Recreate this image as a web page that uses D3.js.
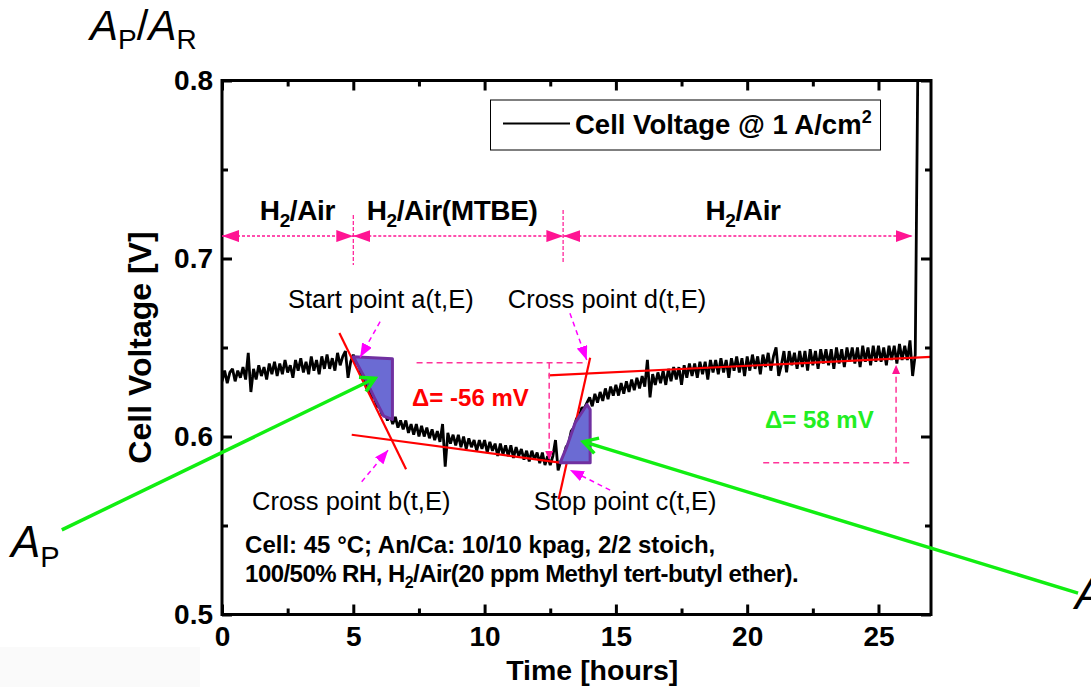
<!DOCTYPE html>
<html>
<head>
<meta charset="utf-8">
<script src="https://cdn.jsdelivr.net/npm/d3@7"></script>
<style>
body { margin: 0; background: #fff; }
svg { display: block; font-family: "Liberation Sans", Arial, sans-serif; }
</style>
</head>
<body>
<div id="chart"></div>
<script>
// Axis ticks
var timeTicks = [0, 5, 10, 15, 20, 25];
var timeMinorTicks = [2.5, 7.5, 12.5, 17.5, 22.5];
var voltTicks = [0.5, 0.6, 0.7, 0.8];
var voltMinorTicks = [0.55, 0.65, 0.75];

// Cell voltage in mV, one reading every 0.1 h starting at 0 h
var sampleStep = 0.1;
var cellVoltage = [
  631, 637, 630, 636, 638, 631, 637, 633, 639, 632,
  647, 625, 638, 632, 640, 634, 639, 632, 641, 635,
  642, 634, 641, 635, 643, 636, 640, 633, 643, 637,
  644, 636, 642, 635, 645, 637, 643, 635, 645, 638,
  646, 638, 644, 637, 647, 640, 645, 648, 633, 642,
  646, 641, 642, 634, 635, 627, 628, 622, 622, 617,
  617, 612, 614, 609, 612, 607, 611, 605, 609, 604,
  609, 602, 607, 601, 607, 600, 606, 600, 605, 599,
  604, 598, 603, 597, 607, 583, 602, 596, 601, 595,
  601, 594, 600, 593, 599, 594, 598, 592, 598, 593,
  598, 591, 597, 592, 596, 589, 596, 590, 595, 589,
  595, 588, 594, 589, 593, 587, 592, 586, 592, 587,
  591, 585, 591, 584, 589, 584, 589, 598, 581, 586,
  588, 594, 596, 603, 605, 610, 611, 616, 616, 619,
  622, 617, 624, 619, 625, 620, 627, 621, 628, 623,
  629, 623, 630, 624, 631, 625, 632, 626, 633, 627,
  634, 628, 643, 622, 635, 629, 636, 630, 637, 629,
  638, 631, 639, 632, 639, 629, 640, 633, 641, 634,
  641, 633, 642, 635, 642, 632, 643, 636, 643, 635,
  644, 636, 643, 633, 644, 637, 645, 636, 644, 634,
  645, 637, 646, 638, 645, 635, 646, 639, 647, 637,
  645, 650, 634, 640, 648, 636, 648, 640, 647, 638,
  648, 639, 648, 637, 649, 640, 648, 638, 649, 641,
  649, 640, 649, 638, 650, 641, 649, 639, 650, 642,
  650, 641, 650, 639, 651, 642, 650, 640, 651, 642,
  651, 642, 650, 640, 651, 643, 651, 641, 652, 643,
  651, 643, 654, 634, 646, 810
];

// Gas feed periods (hours)
var regionNames = ["H2/Air", "H2/Air(MTBE)", "H2/Air"];
var regionStart = [0, 5, 13];
var regionEnd = [5, 13, 26.3];
var regionLabelTime = [2.87, 8.76, 19.84];

// Fitted red lines, [hours, volts]
var fitLines = [
  [[4.47, 0.6582], [7.01, 0.5816]],
  [[4.94, 0.6010], [12.87, 0.5853]],
  [[12.82, 0.5647], [14.02, 0.6442]],
  [[12.44, 0.6343], [27.0, 0.6447]]
];

// Shaded areas A_P and A_R
var areaP = [[5.0, 0.6448], [6.49, 0.6437], [6.49, 0.6096], [6.16, 0.6114], [5.83, 0.6209], [5.52, 0.6306]];
var areaR = [[12.88, 0.5853], [14.02, 0.5853], [14.02, 0.6152], [13.9, 0.6180], [13.45, 0.6077], [13.14, 0.5946]];

// Point labels and their arrows (tail -> tip)
var pointNames = ["Start point a(t,E)", "Cross point d(t,E)", "Cross point b(t,E)", "Stop point c(t,E)"];
var pointLabelAt = [[6.05, 0.6722], [14.66, 0.6722], [4.92, 0.5587], [15.35, 0.5587]];
var pointArrows = [
  [[6.02, 0.6645], [5.26, 0.6445]],
  [[13.25, 0.6692], [13.89, 0.6430]],
  [[5.32, 0.5746], [6.33, 0.5924]],
  [[14.78, 0.5699], [13.25, 0.5812]]
];

// Voltage change markers
var deltaDrop = -56, deltaRise = 58;

var margin = { top: 80.5, right: 160, bottom: 72.5, left: 222 };
var width = 1091, height = 687;
var innerWidth = width - margin.left - margin.right;
var innerHeight = height - margin.top - margin.bottom;

var x = d3.scaleLinear().domain([0, 27]).range([0, innerWidth]);
var y = d3.scaleLinear().domain([0.5, 0.8]).range([innerHeight, 0]);

var svg = d3.select("#chart").append("svg")
    .attr("width", width)
    .attr("height", height);

// faint grey patch at the bottom left
svg.append("rect").attr("x", 0).attr("y", 647).attr("width", 200).attr("height", 40).attr("fill", "#fafafa");

var defs = svg.append("defs");
defs.append("clipPath").attr("id", "plotClip")
    .append("rect").attr("width", innerWidth).attr("height", innerHeight);

function triMarker(id, color, w, h) {
    defs.append("marker")
        .attr("id", id)
        .attr("markerUnits", "userSpaceOnUse")
        .attr("markerWidth", w).attr("markerHeight", h)
        .attr("refX", w).attr("refY", h / 2)
        .attr("orient", "auto-start-reverse")
        .append("path")
        .attr("d", `M0,0L${w},${h / 2}L0,${h}Z`)
        .attr("fill", color);
}
triMarker("triPink", "#ff1493", 17, 12);
triMarker("triMag", "#ff00ff", 14, 11);
triMarker("triSmall", "#ff1493", 9, 8);

defs.append("marker")
    .attr("id", "chevGreen")
    .attr("markerUnits", "userSpaceOnUse")
    .attr("markerWidth", 20).attr("markerHeight", 20)
    .attr("refX", 16).attr("refY", 10)
    .attr("orient", "auto")
    .style("overflow", "visible")
    .append("path")
    .attr("d", "M2,2L16,10L2,18")
    .attr("fill", "none")
    .attr("stroke", "#11ee11")
    .attr("stroke-width", 3.5);

var g = svg.append("g").attr("transform", `translate(${margin.left}, ${margin.top})`);

// Voltage trace
var line = d3.line()
    .x((d, i) => x(i * sampleStep))
    .y(d => y(d / 1000));

var plot = g.append("g").attr("clip-path", "url(#plotClip)");
plot.append("path")
    .datum(cellVoltage)
    .attr("fill", "none")
    .attr("stroke", "black")
    .attr("stroke-width", 2.8)
    .attr("stroke-linejoin", "bevel")
    .attr("d", line);

// Fitted lines
var ptLine = d3.line().x(d => x(d[0])).y(d => y(d[1]));
plot.selectAll(".fit").data(fitLines).join("path")
    .attr("class", "fit")
    .attr("d", ptLine)
    .attr("stroke", "#ff0000")
    .attr("stroke-width", 2.2)
    .attr("fill", "none");

// Shaded areas
g.selectAll(".area").data([areaP, areaR]).join("path")
    .attr("class", "area")
    .attr("d", d => ptLine(d) + "Z")
    .attr("fill", "#6b6bd3")
    .attr("stroke", "#7030a0")
    .attr("stroke-width", 3)
    .attr("stroke-linejoin", "round");

// Frame
g.append("rect")
    .attr("width", innerWidth)
    .attr("height", innerHeight)
    .attr("fill", "none")
    .attr("stroke", "black")
    .attr("stroke-width", 3);

// Axes with inward ticks on all four sides
function styleAxis(sel) {
    sel.select(".domain").remove();
    sel.selectAll("line").attr("stroke", "black").attr("stroke-width", 3);
}
var xBottom = g.append("g").attr("transform", `translate(0, ${innerHeight})`)
    .call(d3.axisBottom(x).tickValues(timeTicks).tickSizeInner(-10).tickSizeOuter(0).tickPadding(12).tickFormat(d3.format("d")));
xBottom.call(styleAxis);
g.append("g").attr("transform", `translate(0, ${innerHeight})`)
    .call(d3.axisBottom(x).tickValues(timeMinorTicks).tickSizeInner(-6).tickSizeOuter(0).tickFormat(""))
    .call(styleAxis);
g.append("g")
    .call(d3.axisTop(x).tickValues(timeTicks).tickSizeInner(-10).tickSizeOuter(0).tickFormat(""))
    .call(styleAxis);
g.append("g")
    .call(d3.axisTop(x).tickValues(timeMinorTicks).tickSizeInner(-6).tickSizeOuter(0).tickFormat(""))
    .call(styleAxis);
var yLeft = g.append("g")
    .call(d3.axisLeft(y).tickValues(voltTicks).tickSizeInner(-10).tickSizeOuter(0).tickPadding(9).tickFormat(d3.format(".1f")));
yLeft.call(styleAxis);
g.append("g")
    .call(d3.axisLeft(y).tickValues(voltMinorTicks).tickSizeInner(-6).tickSizeOuter(0).tickFormat(""))
    .call(styleAxis);
g.append("g").attr("transform", `translate(${innerWidth}, 0)`)
    .call(d3.axisRight(y).tickValues(voltTicks).tickSizeInner(-10).tickSizeOuter(0).tickFormat(""))
    .call(styleAxis);
g.append("g").attr("transform", `translate(${innerWidth}, 0)`)
    .call(d3.axisRight(y).tickValues(voltMinorTicks).tickSizeInner(-6).tickSizeOuter(0).tickFormat(""))
    .call(styleAxis);

[xBottom, yLeft].forEach(function (ax) {
    ax.selectAll("text")
        .attr("fill", "black")
        .style("font-family", "Liberation Sans, Arial, sans-serif")
        .style("font-size", "28px")
        .style("font-weight", "bold");
});

// Axis titles
g.append("text")
    .attr("x", x(14.1))
    .attr("y", innerHeight + 65)
    .attr("text-anchor", "middle")
    .style("font-size", "28.5px")
    .style("font-weight", "bold")
    .text("Time [hours]");

g.append("text")
    .attr("transform", "rotate(-90)")
    .attr("x", -y(0.65))
    .attr("y", -71)
    .attr("text-anchor", "middle")
    .style("font-size", "32px")
    .style("font-weight", "bold")
    .text("Cell Voltage [V]");

// Legend
var leg = g.append("g");
leg.append("rect")
    .attr("x", 268.5).attr("y", 19.5)
    .attr("width", 390).attr("height", 50)
    .attr("fill", "white").attr("stroke", "black").attr("stroke-width", 1);
leg.append("line")
    .attr("x1", 281).attr("x2", 348).attr("y1", 43).attr("y2", 43)
    .attr("stroke", "black").attr("stroke-width", 2);
var legText = leg.append("text")
    .attr("x", 353).attr("y", 53)
    .style("font-size", "27.5px").style("font-weight", "bold");
legText.append("tspan").text("Cell Voltage @ 1 A/cm");
legText.append("tspan").attr("dy", -11).style("font-size", "18px").text("2");

// H2 label helper
function h2Text(sel, rest, size) {
    sel.append("tspan").text("H");
    sel.append("tspan").attr("dy", 7).style("font-size", (size * 0.68) + "px").text("2");
    sel.append("tspan").attr("dy", -7).text(rest);
}

// Gas periods: double arrows, dividers, labels
var regionArrowV = 0.7126;
g.selectAll(".region").data(regionNames).join("line")
    .attr("class", "region")
    .attr("x1", (d, i) => x(regionStart[i]))
    .attr("x2", (d, i) => x(regionEnd[i]))
    .attr("y1", y(regionArrowV)).attr("y2", y(regionArrowV))
    .attr("stroke", "#ff1493")
    .attr("stroke-width", 1.5)
    .attr("stroke-dasharray", "3,2")
    .attr("marker-start", "url(#triPink)")
    .attr("marker-end", "url(#triPink)");

var dividerTimes = [5, 12.99];
var dividerTop = [0.7245, 0.7272];
var dividerBottom = [0.6963, 0.698];
g.selectAll(".divider").data(dividerTimes).join("line")
    .attr("class", "divider")
    .attr("x1", d => x(d)).attr("x2", d => x(d))
    .attr("y1", (d, i) => y(dividerTop[i]))
    .attr("y2", (d, i) => y(dividerBottom[i]))
    .attr("stroke", "#ff1493")
    .attr("stroke-width", 1.2)
    .attr("stroke-dasharray", "4,2");

regionNames.forEach(function (name, i) {
    var t = g.append("text")
        .attr("x", x(regionLabelTime[i]))
        .attr("y", y(0.7216))
        .attr("text-anchor", "middle")
        .style("font-size", "28px")
        .style("font-weight", "bold")
        .style("letter-spacing", "-0.4px");
    h2Text(t, name.slice(2), 28);
});

// Point labels
g.selectAll(".plabel").data(pointNames).join("text")
    .attr("class", "plabel")
    .attr("x", (d, i) => x(pointLabelAt[i][0]))
    .attr("y", (d, i) => y(pointLabelAt[i][1]))
    .attr("text-anchor", "middle")
    .style("font-size", "25.5px")
    .text(d => d);

g.selectAll(".parrow").data(pointArrows).join("path")
    .attr("class", "parrow")
    .attr("d", ptLine)
    .attr("stroke", "#ff00ff")
    .attr("stroke-width", 1.5)
    .attr("stroke-dasharray", "5,4")
    .attr("fill", "none")
    .attr("marker-end", "url(#triMag)");

// Voltage change guides
var dashPink = "#ff3399";
var guideLines = [
  { pts: [[7.41, 0.6415], [13.89, 0.6415]], arrow: false },
  { pts: [[12.46, 0.6415], [12.46, 0.5868]], arrow: true },
  { pts: [[20.61, 0.5853], [26.26, 0.5853]], arrow: false },
  { pts: [[25.67, 0.5853], [25.67, 0.6402]], arrow: true }
];
g.selectAll(".guide").data(guideLines).join("path")
    .attr("class", "guide")
    .attr("d", d => ptLine(d.pts))
    .attr("stroke", dashPink)
    .attr("stroke-width", 1.5)
    .attr("stroke-dasharray", "6,4")
    .attr("fill", "none")
    .attr("marker-end", d => d.arrow ? "url(#triSmall)" : null);

g.append("text")
    .attr("x", x(7.24)).attr("y", y(0.6171))
    .attr("fill", "#ff0000")
    .style("font-size", "24px").style("font-weight", "bold")
    .text("\u0394= " + deltaDrop + " mV");

g.append("text")
    .attr("x", x(20.68)).attr("y", y(0.6048))
    .attr("fill", "#22ee22")
    .style("font-size", "24px").style("font-weight", "bold")
    .text("\u0394= " + deltaRise + " mV");

// Test conditions
var cond = g.append("text")
    .attr("x", x(0.88)).attr("y", y(0.5346))
    .style("font-size", "24px").style("font-weight", "bold");
cond.append("tspan").text("Cell: 45 \u00b0C; An/Ca: 10/10 kpag, 2/2 stoich,");
var cond2 = g.append("text")
    .attr("x", x(0.88)).attr("y", y(0.5184))
    .style("font-size", "24px").style("font-weight", "bold")
    .style("letter-spacing", "-0.55px");
cond2.append("tspan").text("100/50% RH, H");
cond2.append("tspan").attr("dy", 6).style("font-size", "16px").text("2");
cond2.append("tspan").attr("dy", -6).text("/Air(20 ppm Methyl tert-butyl ether).");

// Green arrows to the shaded areas
var greenArrows = [
  [[-6.1, 0.5475], [5.83, 0.6327]],
  [[32.6, 0.5120], [13.76, 0.5971]]
];
g.selectAll(".garrow").data(greenArrows).join("path")
    .attr("class", "garrow")
    .attr("d", ptLine)
    .attr("stroke", "#11ee11")
    .attr("stroke-width", 3.5)
    .attr("fill", "none")
    .attr("marker-end", "url(#chevGreen)");

// Area names
function areaLabel(px, py, sub, size) {
    var t = svg.append("text").attr("x", px).attr("y", py).style("font-size", size + "px");
    t.append("tspan").style("font-style", "italic").text("A");
    t.append("tspan").attr("dy", size * 0.22).style("font-size", (size * 0.66) + "px").text(sub);
    return t;
}
areaLabel(11, 557, "P", 44);
areaLabel(1075, 609, "R", 44);

var ratio = svg.append("text").attr("x", 90).attr("y", 40).style("font-size", "42px");
ratio.append("tspan").style("font-style", "italic").text("A");
ratio.append("tspan").attr("dy", 9).style("font-size", "28px").text("P");
ratio.append("tspan").attr("dy", -9).text("/");
ratio.append("tspan").style("font-style", "italic").text("A");
ratio.append("tspan").attr("dy", 9).style("font-size", "28px").text("R");
</script>
</body>
</html>
